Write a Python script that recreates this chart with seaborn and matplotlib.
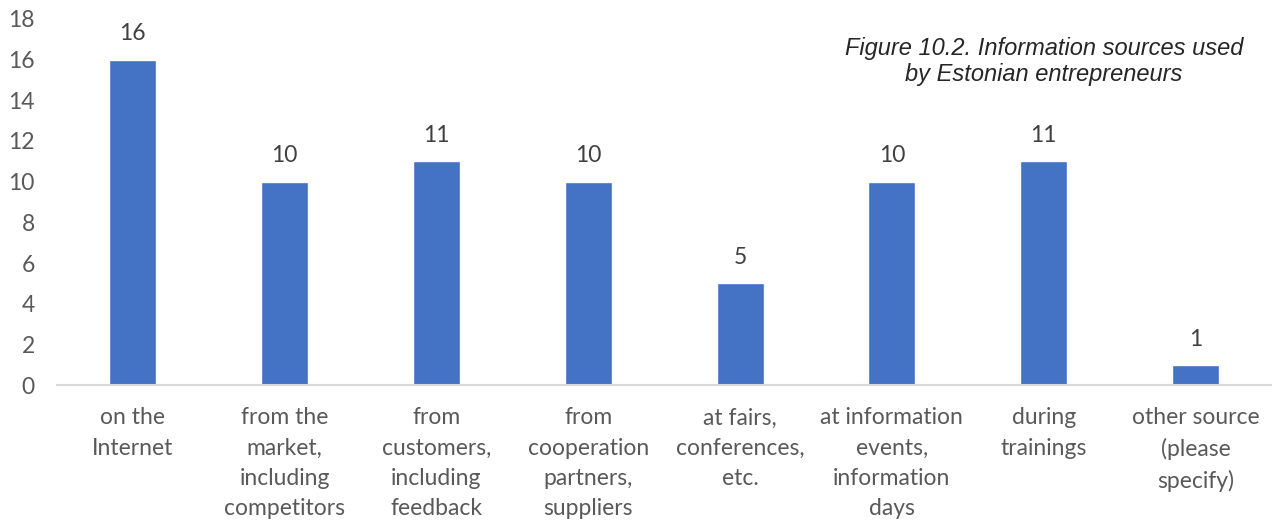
import matplotlib
matplotlib.use("Agg")
import matplotlib.pyplot as plt
import seaborn as sns
import pandas as pd

categories = [
    "on the\nInternet",
    "from the\nmarket,\nincluding\ncompetitors",
    "from\ncustomers,\nincluding\nfeedback",
    "from\ncooperation\npartners,\nsuppliers",
    "at fairs,\nconferences,\netc.",
    "at information\nevents,\ninformation\ndays",
    "during\ntrainings",
    "other source\n(please\nspecify)",
]
values = [16, 10, 11, 10, 5, 10, 11, 1]
y_ticks = [0, 2, 4, 6, 8, 10, 12, 14, 16, 18]
title = "Figure 10.2. Information sources used\nby Estonian entrepreneurs"

sns.set_theme(style="white")
plt.rcParams["font.family"] = ["Lato", "DejaVu Sans"]

df = pd.DataFrame({"source": categories, "count": values})

fig = plt.figure(figsize=(12.74, 5.24), dpi=100)
ax = fig.add_axes([0.0447, 0.265, 0.9533, 0.699])

sns.barplot(data=df, x="source", y="count", color="#4472C4", width=0.31,
            saturation=1, ax=ax)

ax.set_ylim(0, 18)
ax.set_yticks(y_ticks)
ax.set_xlim(-0.5, len(categories) - 0.5)
ax.set_xlabel("")
ax.set_ylabel("")

for s in ["top", "right", "left"]:
    ax.spines[s].set_visible(False)
ax.spines["bottom"].set_color("#D9D9D9")
ax.spines["bottom"].set_linewidth(1.5)

ax.tick_params(axis="y", labelsize=16.5, labelcolor="#595959", length=0, pad=16)
ax.tick_params(axis="x", labelsize=16.5, labelcolor="#595959", length=0, pad=16)
for lbl in ax.get_xticklabels():
    lbl.set_linespacing(1.55)
for lbl in ax.get_yticklabels():
    lbl.set_horizontalalignment("right")

for container in ax.containers:
    ax.bar_label(container, labels=[str(v) for v in values], padding=11,
                 fontsize=16.5, color="#404040")

fig.text(0.8195, 0.882, title, ha="center", va="center", style="italic",
         fontsize=17, color="#262626", family=["Liberation Sans", "DejaVu Sans"],
         linespacing=1.15)

fig.savefig("out.png", dpi=100, facecolor="white")
